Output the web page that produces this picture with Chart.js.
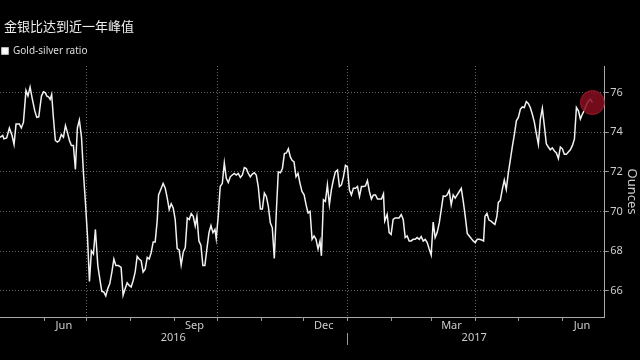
<!DOCTYPE html>
<html>
<head>
<meta charset="utf-8">
<script src="https://cdn.jsdelivr.net/npm/chart.js@4.4.1/dist/chart.umd.min.js"></script>
<style>
  body { margin: 0; background: #000; }
  #wrap { position: relative; width: 640px; height: 360px; }
  #title {
    position: absolute; left: 4px; top: 18px;
    font: 13px "Noto Sans CJK SC", sans-serif; line-height: 16px; color: #eee;
  }
</style>
</head>
<body>
<div id="wrap">
  <div id="title">金银比达到近一年峰值</div>
  <canvas id="chart" width="640" height="360"></canvas>
</div>
<script>
// days since 1 May 2016
const dayOffsets = [
  0.0, 1.9, 2.8, 4.7, 6.6, 8.5, 9.9, 11.3, 13.6, 15.0, 16.5, 18.3, 19.7, 21.2, 22.6, 24.5, 25.9, 27.3, 29.2, 30.6,
  32.0, 32.9, 34.3, 35.3, 36.4, 37.6, 39.0, 40.4, 41.8, 43.2, 44.7, 46.1, 47.5, 48.9, 50.3, 51.7, 53.1, 54.5, 55.9, 57.4,
  58.8, 60.2, 61.6, 63.0, 64.4, 65.8, 67.2, 68.9, 70.3, 71.7, 73.1, 74.5, 75.9, 77.3, 78.8, 80.2, 81.6, 83.4, 85.3, 86.7,
  88.2, 89.6, 91.0, 92.4, 93.8, 95.2, 96.6, 98.0, 99.4, 100.8, 102.3, 103.7, 105.1, 106.5, 107.9, 109.3, 110.7, 111.7, 113.1, 114.9,
  116.4, 117.8, 119.2, 120.6, 122.0, 123.4, 124.8, 126.2, 127.6, 129.1, 130.5, 131.9, 133.3, 134.7, 136.1, 137.5, 138.7, 140.1, 141.5, 142.9,
  144.3, 145.7, 147.2, 148.6, 150.0, 151.4, 152.3, 153.7, 155.1, 156.6, 158.0, 159.4, 160.8, 162.2, 163.6, 165.0, 166.4, 167.8, 169.3, 170.7,
  172.1, 173.5, 174.9, 176.3, 177.7, 179.1, 180.5, 181.9, 183.4, 184.8, 186.2, 187.6, 189.0, 190.4, 191.8, 193.2, 194.6, 196.0, 197.5, 198.9,
  200.3, 201.7, 203.1, 204.5, 205.7, 207.1, 208.5, 209.9, 211.3, 212.7, 214.2, 215.6, 217.0, 218.4, 219.8, 221.2, 222.6, 224.0, 225.4, 226.4,
  227.8, 229.2, 230.6, 232.0, 233.4, 234.8, 236.2, 237.7, 239.1, 240.5, 241.9, 243.3, 244.7, 246.1, 247.5, 248.9, 250.4, 251.8, 253.2, 254.6,
  256.0, 257.4, 258.8, 260.2, 261.6, 263.0, 264.5, 265.9, 267.3, 268.7, 270.1, 271.0, 272.7, 274.1, 275.5, 276.9, 278.3, 279.7, 281.1, 282.6,
  284.0, 285.4, 286.8, 288.2, 289.6, 291.0, 292.4, 293.8, 295.3, 296.7, 298.1, 299.5, 300.9, 302.3, 303.7, 305.1, 306.5, 307.9, 309.4, 310.8,
  312.2, 313.6, 315.0, 316.4, 317.8, 319.2, 320.6, 322.0, 323.5, 324.9, 326.3, 327.7, 329.1, 330.5, 331.9, 333.3, 334.7, 336.2, 337.6, 339.2,
  340.6, 341.6, 343.0, 344.4, 345.8, 347.2, 348.6, 350.0, 351.0, 352.4, 353.8, 355.2, 356.6, 358.0, 359.4, 360.8, 362.2, 363.7, 365.1, 366.5,
  367.9, 369.3, 370.7, 372.1, 373.5, 374.9, 376.4, 377.8, 379.2, 380.6, 382.0, 383.4, 384.8, 386.2, 387.6, 389.0, 390.5, 391.9, 393.3, 394.7,
  396.1, 397.5, 398.9, 400.3, 401.7, 403.2, 404.6, 406.0, 407.4, 408.8, 410.2, 411.6, 413.0, 414.4, 415.8, 417.3
];
const ratio = [
  73.74, 73.83, 73.66, 73.71, 74.21, 73.83, 73.38, 74.41, 74.41, 74.21, 74.49, 76.10, 75.82, 76.27, 75.73, 75.07, 74.74, 74.77, 75.82, 76.03,
  75.98, 75.82, 75.77, 75.65, 75.90, 74.74, 73.58, 73.50, 73.58, 73.88, 73.74, 74.33, 73.99, 73.58, 73.33, 73.33, 72.12, 74.21, 74.61, 73.74,
  71.92, 70.43, 68.77, 66.48, 68.02, 67.86, 69.10, 67.28, 66.61, 65.98, 65.95, 65.75, 66.12, 66.36, 66.95, 67.61, 67.28, 67.28, 67.19, 65.78,
  66.12, 66.41, 66.28, 66.20, 66.53, 66.95, 67.74, 67.61, 67.53, 66.95, 67.11, 67.69, 67.61, 67.94, 68.47, 68.47, 69.52, 70.84, 71.09, 71.42,
  71.17, 70.68, 70.10, 70.39, 70.18, 69.60, 68.14, 68.07, 67.31, 67.97, 68.19, 69.68, 69.60, 69.90, 69.76, 69.27, 69.76, 68.52, 68.31, 67.28,
  67.28, 68.11, 68.94, 69.30, 68.94, 69.10, 68.64, 69.76, 71.26, 71.42, 72.45, 71.67, 71.46, 71.75, 71.84, 71.92, 71.84, 71.92, 71.72, 71.84,
  72.22, 72.17, 71.92, 71.75, 71.89, 71.95, 71.84, 71.26, 70.13, 70.13, 70.93, 70.76, 70.26, 69.43, 69.18, 67.64, 69.93, 72.00, 71.95, 72.17,
  72.92, 72.95, 73.16, 72.75, 72.58, 72.50, 71.75, 71.92, 71.42, 71.01, 70.84, 70.34, 69.93, 70.01, 68.60, 68.77, 68.60, 68.11, 68.52, 67.77,
  70.59, 70.51, 71.34, 70.34, 71.09, 71.59, 72.00, 72.09, 71.26, 71.34, 71.75, 72.33, 72.25, 71.09, 70.84, 71.17, 71.17, 71.26, 70.76, 71.26,
  71.26, 71.29, 71.56, 71.01, 70.63, 70.84, 70.84, 70.63, 70.63, 70.63, 70.89, 69.52, 69.85, 68.94, 68.85, 69.60, 69.68, 69.68, 69.68, 69.85,
  69.60, 68.69, 68.77, 68.52, 68.52, 68.60, 68.60, 68.69, 68.60, 68.74, 68.52, 68.60, 68.44, 68.11, 67.81, 69.47, 68.69, 68.94, 69.43, 70.10,
  70.79, 70.76, 70.84, 71.06, 70.34, 70.84, 70.68, 70.84, 71.01, 71.17, 70.51, 69.76, 68.90, 68.77, 68.64, 68.52, 68.44, 68.60, 68.60, 68.57,
  68.52, 69.76, 69.90, 69.57, 69.52, 69.43, 69.35, 69.76, 70.46, 70.56, 71.12, 71.59, 71.12, 71.92, 72.58, 73.25, 73.83, 74.57, 74.74, 75.15,
  75.27, 75.24, 75.54, 75.44, 75.24, 74.91, 74.49, 73.91, 73.38, 74.66, 75.20, 74.33, 73.41, 73.25, 73.11, 73.21, 73.05, 72.95, 72.67, 73.25,
  73.16, 72.88, 72.88, 73.00, 73.11, 73.33, 73.66, 75.24, 75.07, 74.66, 74.91, 75.10, 75.37, 75.57, 75.65, 75.49
];

// axis ticks (days since 1 May 2016)
const monthStarts = [31, 61, 92, 123, 153, 184, 214, 245, 276, 304, 335, 365, 396];
const quarterLines = [61, 153, 245, 335];
const monthLabelDays = [45, 137, 228, 318, 410];
const monthLabels = ["Jun", "Sep", "Dec", "Mar", "Jun"];
const yearLabelDays = [122, 334];
const yearLabels = ["2016", "2017"];
const yearBreak = 245;
const yTicks = [66, 68, 70, 72, 74, 76];

const fontFamily = '"Noto Sans", sans-serif';
const lastIdx = ratio.length - 1;
const xTickDays = monthStarts.concat(monthLabelDays, yearLabelDays).sort((a, b) => a - b);

new Chart(document.getElementById("chart"), {
  type: "line",
  data: {
    datasets: [{
      label: "Gold-silver ratio",
      data: dayOffsets.map((d, i) => ({ x: d, y: ratio[i] })),
      borderColor: "#f2f2f2",
      backgroundColor: "#fff",
      borderWidth: 1.5,
      tension: 0,
      pointRadius: (ctx) => (ctx.dataIndex === lastIdx ? 12 : 0),
      pointHoverRadius: (ctx) => (ctx.dataIndex === lastIdx ? 12 : 0),
      pointBackgroundColor: "rgba(135, 14, 30, 0.85)",
      pointBorderColor: "rgba(160, 28, 44, 0.9)",
      pointBorderWidth: 1,
    }],
  },
  options: {
    responsive: false,
    animation: false,
    events: [],
    layout: { autoPadding: false, padding: { top: 44, right: 0, bottom: 43, left: 0 } },
    plugins: {
      tooltip: { enabled: false },
      legend: {
        position: "top",
        align: "start",
        labels: {
          boxWidth: 6,
          boxHeight: 6,
          padding: 2,
          color: "#ddd",
          font: { family: fontFamily, size: 10 },
        },
      },
    },
    scales: {
      x: {
        type: "linear",
        position: "bottom",
        min: 0,
        max: 426,
        afterBuildTicks: (axis) => {
          axis.ticks = xTickDays.map((v) => ({ value: v }));
        },
        afterFit: (axis) => {
          axis.paddingLeft = 0;
          axis.paddingRight = 0;
        },
        ticks: {
          autoSkip: false,
          maxRotation: 0,
          mirror: true,
          padding: -15,
          color: "#ccc",
          font: { family: fontFamily, size: 11, lineHeight: 1.1 },
          callback: (v) => {
            const m = monthLabelDays.indexOf(v);
            if (m >= 0) return monthLabels[m];
            const y = yearLabelDays.indexOf(v);
            if (y >= 0) return ["", yearLabels[y]];
            return "";
          },
        },
        grid: {
          color: (ctx) => (ctx.tick && quarterLines.includes(ctx.tick.value) ? "#666" : "transparent"),
          tickColor: (ctx) => (ctx.tick && monthStarts.includes(ctx.tick.value) ? "#999" : "transparent"),
          tickBorderDash: (ctx) => (ctx.tick && ctx.tick.value === yearBreak ? [3, 12, 13, 60] : [3, 60]),
          tickLength: 28,
          lineWidth: 1,
        },
        border: { color: "#aaa", dash: [1, 2] },
      },
      y: {
        position: "right",
        min: 64.69,
        max: 77.33,
        afterBuildTicks: (axis) => {
          axis.ticks = yTicks.map((v) => ({ value: v }));
        },
        ticks: {
          padding: 1.5,
          color: "#ccc",
          font: { family: fontFamily, size: 11 },
        },
        grid: {
          color: "#666",
          tickColor: "#999",
          tickLength: 4,
          lineWidth: 1,
        },
        border: { color: "#aaa", dash: [1, 2] },
        title: {
          display: true,
          text: "Ounces",
          color: "#ccc",
          font: { family: fontFamily, size: 13 },
          padding: { top: 0, bottom: 0 },
        },
      },
    },
  },
});
</script>
</body>
</html>
